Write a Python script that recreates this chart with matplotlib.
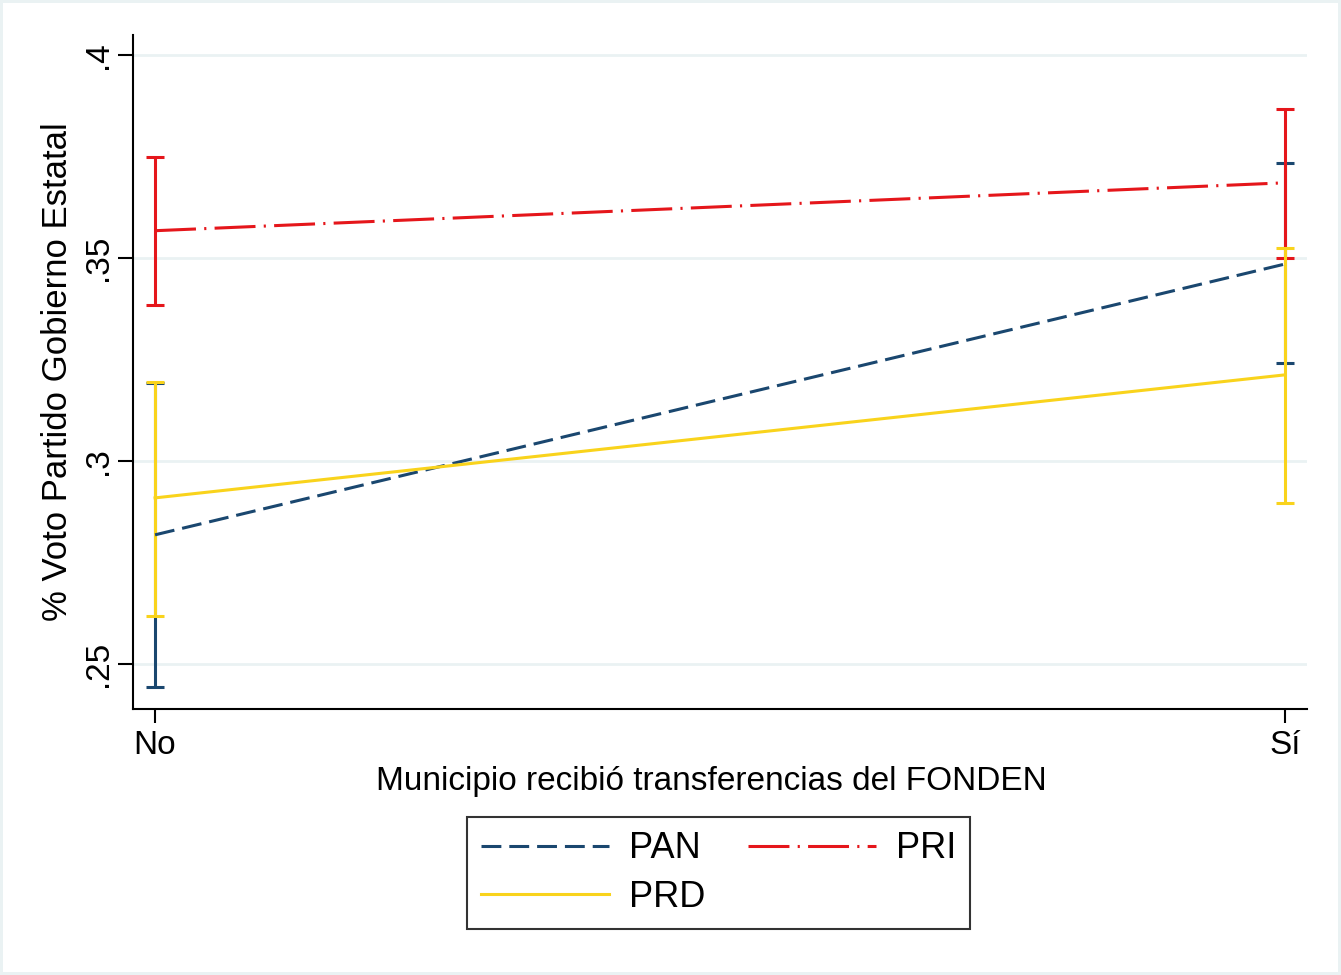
import matplotlib.pyplot as plt

plt.rcParams['font.family'] = ['Liberation Sans', 'DejaVu Sans']

# Data (margins with 95% CI)
categories = ['No', 'Sí']
parties = ['PAN', 'PRI', 'PRD']
pan_mean = [0.2818, 0.3485]
pan_lo = [0.2443, 0.3241]
pan_hi = [0.3193, 0.3734]
pri_mean = [0.3567, 0.3685]
pri_lo = [0.3384, 0.3500]
pri_hi = [0.3749, 0.3867]
prd_mean = [0.2909, 0.3212]
prd_lo = [0.2618, 0.2897]
prd_hi = [0.3195, 0.3525]

colors = {'PAN': '#1a476f', 'PRI': '#e5161b', 'PRD': '#f9d31c'}
grid_c = '#eaf2f3'
lw = 2.2

fig = plt.figure(figsize=(13.41, 9.75), dpi=100)
fig.patch.set_facecolor('white')
fig.patch.set_edgecolor(grid_c)
fig.patch.set_linewidth(3)
ax = fig.add_axes([0.0992, 0.2728, 0.8755, 0.6913])

x = list(range(len(categories)))
series = [
    ('PAN', pan_mean, pan_lo, pan_hi, (0, (6.5, 2.6))),
    ('PRI', pri_mean, pri_lo, pri_hi, (0, (13.4, 2.7, 0.7, 2.7))),
    ('PRD', prd_mean, prd_lo, prd_hi, '-'),
]

# CIs first
for name, m, lo, hi, ls in series:
    err = [[a - b for a, b in zip(m, lo)], [b - a for a, b in zip(m, hi)]]
    ax.errorbar(x, m, yerr=err, fmt='none', ecolor=colors[name],
                elinewidth=lw, capsize=6.2, capthick=lw, zorder=2)

handles = {}
for name, m, lo, hi, ls in series:
    ln, = ax.plot(x, m, color=colors[name], lw=lw, linestyle=ls, label=name, zorder=3)
    handles[name] = ln

ax.set_xlim(-0.0195, 1.0195)
ax.set_ylim(0.2389, 0.4049)
ax.set_xticks(x)
ax.set_xticklabels(categories, fontsize=24)
ax.set_yticks([0.25, 0.3, 0.35, 0.4])
ax.set_yticklabels(['.25', '.3', '.35', '.4'], fontsize=24, rotation=90, va='center')
ax.tick_params(axis='y', length=11, width=1.5, pad=3)
ax.tick_params(axis='x', length=10, width=1.5, pad=5)

ax.grid(axis='y', color=grid_c, lw=2)
ax.set_axisbelow(True)
for s in ['top', 'right']:
    ax.spines[s].set_visible(False)
for s in ['left', 'bottom']:
    ax.spines[s].set_linewidth(1.5)

ax.set_xlabel('Municipio recibió transferencias del FONDEN', fontsize=24, labelpad=4)
ax.xaxis.label.set_x(0.4923)
ax.set_ylabel('% Voto Partido Gobierno Estatal', fontsize=25, labelpad=6)

leg = fig.legend([handles['PAN'], handles['PRD'], handles['PRI']], ['PAN', 'PRD', 'PRI'],
                 ncol=2, loc='center', bbox_to_anchor=(0.5358, 0.1046),
                 fontsize=26, frameon=True, fancybox=False, edgecolor='black',
                 handlelength=3.55, handletextpad=0.55, columnspacing=1.17,
                 borderpad=0.4, labelspacing=0.37)
leg.get_frame().set_linewidth(1.5)

fig.savefig('out.png', dpi=100, facecolor='white')
